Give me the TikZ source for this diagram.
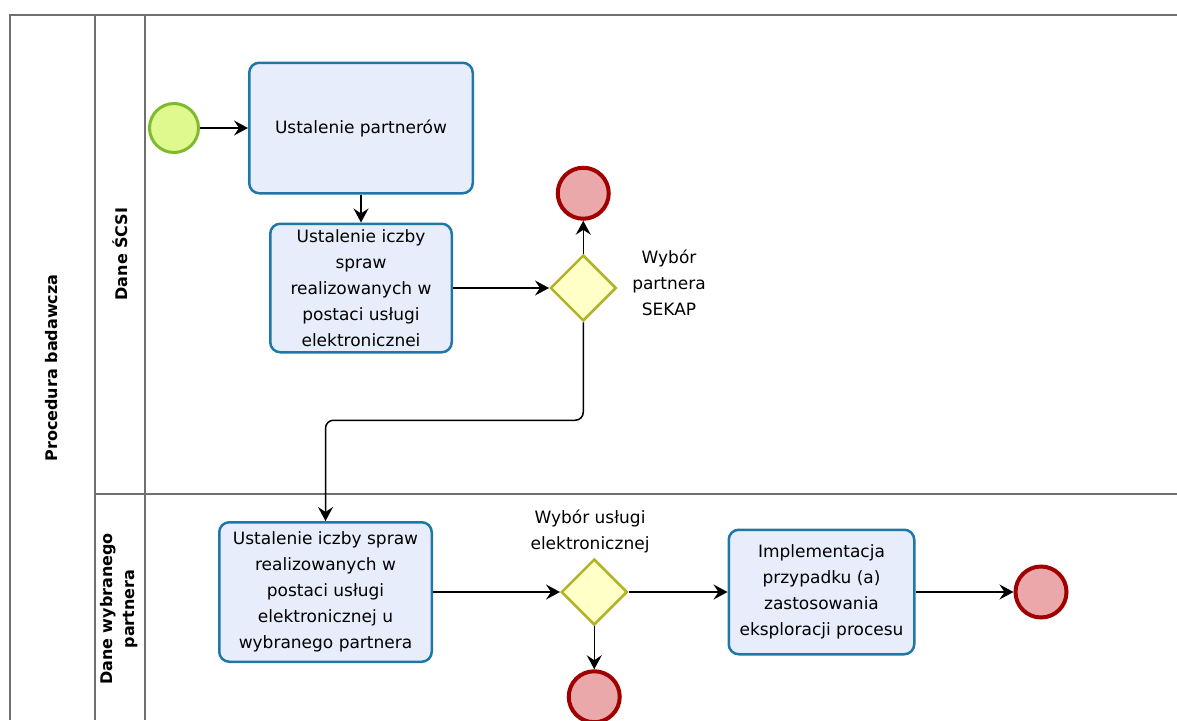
\documentclass[tikz,border=0pt]{standalone}
\usepackage{fontspec}
\setmainfont{DejaVu Sans}
\usetikzlibrary{positioning,shapes.geometric,arrows.meta}
\definecolor{taskfill}{HTML}{E8EDFC}
\definecolor{taskline}{HTML}{1F77A8}
\definecolor{startfill}{HTML}{DFF98E}
\definecolor{startline}{HTML}{7DBA2C}
\definecolor{stopfill}{HTML}{EAA8AA}
\definecolor{stopline}{HTML}{A10000}
\definecolor{gatefill}{HTML}{FFFFC8}
\definecolor{gateline}{HTML}{B3B32A}
\definecolor{laneline}{HTML}{707070}

\begin{document}
\begin{tikzpicture}[x=1pt, y=-1pt, font=\fontsize{17}{26}\selectfont]
 		\tikzstyle{task}=[rectangle, rounded corners=10pt, draw=taskline, fill=taskfill, line width=2.5pt, align=center, inner sep=0pt]
 		\tikzstyle{start}=[circle, minimum size=49pt, draw=startline, fill=startfill, line width=3pt, inner sep=0pt]
 		\tikzstyle{stop}=[circle, minimum size=51pt, draw=stopline, fill=stopfill, line width=4pt, inner sep=0pt]
 		\tikzstyle{gate}=[diamond, minimum size=66pt, draw=gateline, fill=gatefill, line width=2.5pt, inner sep=0pt]
 		\tikzstyle{connect}=[-{Stealth[length=14pt, width=15pt, inset=5pt]}, line width=1.5pt]
 		\tikzstyle{lane}=[draw=laneline, line width=1.6pt]
 		\tikzstyle{lanelbl}=[rotate=90, font=\fontsize{16}{22}\selectfont\bfseries, align=center]
 		\useasboundingbox (0,0) rectangle (1177,720);
 		% pool and lanes
 		\draw[lane] (10,720) |- (1177,15);
 		\draw[lane] (95,15) -- (95,720);
 		\draw[lane] (145,15) -- (145,720);
 		\draw[lane] (95,494) -- (1177,494);
 		\node[lanelbl] (pool) at (52,368) {Procedura badawcza};
 			\node[lanelbl] (laneA) at (120,254) {Dane ŚCSI};
 			\node[lanelbl] (laneB) at (119,609) {Dane wybranego\\partnera};
 		% upper lane
 		\node[start] (start) at (174,128) { };
 			\node[task, minimum width=223.5pt, minimum height=130.5pt] (partners) [right=48pt of start] {Ustalenie partnerów};
 				\node[task, minimum width=181.5pt, minimum height=128.5pt] (count) [below=28pt of partners] {Ustalenie iczby\\spraw\\realizowanych w\\postaci usługi\\elektronicznei};
 					\node[gate] (choose) [right=96pt of count] { };
 						\node[stop] (stopA) [above=33pt of choose] { };
 						\node (chooseLbl) at (669,283) [align=center] {Wybór\\partnera\\SEKAP};
 		% lower lane
 		\node[task, minimum width=212.5pt, minimum height=139.5pt] (countB) at (325.5,592) {Ustalenie iczby spraw\\realizowanych w\\postaci usługi\\elektronicznej u\\wybranego partnera};
 			\node[gate] (service) [right=127pt of countB] { };
 				\node (serviceLbl) at (590,531) [align=center] {Wybór usługi\\elektronicznej};
 				\node[stop] (stopB) [below=43pt of service] { };
 				\node[task, minimum width=185.5pt, minimum height=124.5pt] (impl) [right=99pt of service] {Implementacja\\przypadku (a)\\zastosowania\\eksploracji procesu};
 					\node[stop] (stopC) [right=98pt of impl] { };

 		\path (start) edge [connect] (partners)
 			(partners) edge [connect] (count)
 				(count) edge [connect] (choose)
 					(choose) edge [connect] (stopA)
 			(countB) edge [connect] (service)
 				(service) edge [connect] (stopB)
 				(service) edge [connect] (impl)
 					(impl) edge [connect] (stopC);
 		\draw[connect, rounded corners=8pt] (choose.south) -- ++(0,98) -| (countB.north);
\end{tikzpicture}
\end{document}
